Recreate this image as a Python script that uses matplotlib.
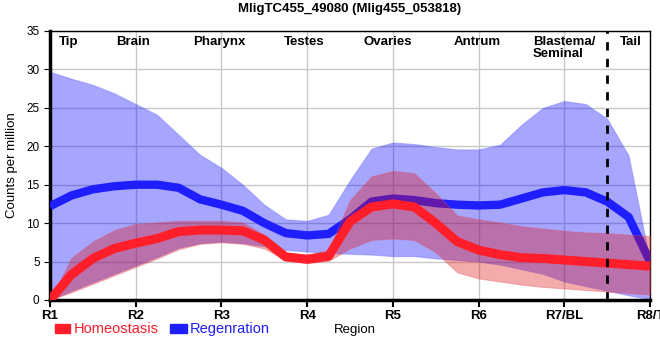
import numpy as np
import matplotlib.pyplot as plt

plt.rcParams['font.family'] = ['Liberation Sans', 'DejaVu Sans']

# positions along body, quarter steps between regions R1..R8
pos = np.arange(29) / 4.0
regions = ['R1', 'R2', 'R3', 'R4', 'R5', 'R6', 'R7/BL', 'R8/T']
parts = ['Tip', 'Brain', 'Pharynx', 'Testes', 'Ovaries', 'Antrum', 'Blastema/\nSeminal', 'Tail']
part_pos = [0.22, 0.97, 1.98, 2.96, 3.94, 4.98, 6.0, 6.77]

homeo = [0, 3.3, 5.4, 6.7, 7.4, 8.0, 8.9, 9.1, 9.1,
         9.0, 7.8, 5.6, 5.3, 5.7, 10.2, 12.1, 12.5,
         12.1, 10.0, 7.6, 6.5, 5.9, 5.5, 5.4, 5.2,
         5.0, 4.8, 4.6, 4.4]
homeo_hi = [0, 5.5, 7.6, 9.1, 9.9, 10.1, 10.3, 10.3, 10.3,
            10.1, 8.5, 6.2, 5.9, 6.5, 13.0, 16.1, 16.8,
            16.5, 13.9, 11.0, 10.5, 10.1, 9.6, 9.3, 9.0,
            8.8, 8.7, 8.5, 8.3]
homeo_lo = [0, 1.0, 2.1, 3.2, 4.3, 5.4, 6.6, 7.3, 7.5,
            7.3, 6.7, 5.2, 4.8, 5.1, 6.7, 7.8, 8.0,
            7.8, 6.2, 3.6, 2.8, 2.4, 2.0, 1.7, 1.5,
            1.3, 1.1, 0.9, 0.7]

regen = [12.2, 13.6, 14.4, 14.8, 15.0, 15.0, 14.6, 13.1, 12.4,
         11.6, 10.0, 8.7, 8.4, 8.6, 10.5, 12.8, 13.2,
         13.0, 12.6, 12.4, 12.3, 12.4, 13.2, 14.0, 14.3,
         14.0, 12.8, 10.8, 5.0]
regen_hi = [29.7, 28.8, 28.0, 26.9, 25.5, 24.1, 21.5, 18.9, 17.2,
            15.0, 12.4, 10.5, 10.3, 11.1, 15.6, 19.7, 20.5,
            20.3, 19.9, 19.6, 19.6, 20.2, 22.8, 25.0, 25.9,
            25.5, 23.6, 18.8, 5.0]
regen_lo = [0, 1.2, 2.3, 3.4, 4.5, 5.6, 6.8, 7.4, 7.6,
            7.4, 7.0, 6.5, 6.3, 6.1, 6.0, 5.9, 5.7,
            5.7, 5.4, 5.2, 5.0, 4.6, 4.0, 3.4, 2.4,
            1.8, 1.2, 0.6, 0.1]

blue = '#1e1eff'
red = '#ff1e2a'

fig = plt.figure(figsize=(6.6, 3.6), dpi=100)
ax = fig.add_axes([0.0758, 0.1667, 0.9091, 0.7472])

ax.fill_between(pos, regen_lo, regen_hi, color='#0000ff', alpha=0.35, lw=0.8,
                edgecolor='#6060ff', joinstyle='round')
ax.plot(pos, regen, color=blue, lw=6, solid_capstyle='butt', solid_joinstyle='round', zorder=3)
ax.fill_between(pos, homeo_lo, homeo_hi, color='#e01010', alpha=0.35, lw=0.8,
                edgecolor='#e05060', joinstyle='round', zorder=4)
ax.plot(pos, homeo, color=red, lw=6.5, solid_capstyle='butt', solid_joinstyle='round', zorder=5)

ax.axvline(6.5, color='black', lw=2, ls=(0, (3, 3)), zorder=6)

ax.set_xlim(0, 7)
ax.set_ylim(0, 35)
ax.set_xticks(range(8))
ax.set_xticklabels(regions, fontsize=9.5, fontweight='bold')
ax.set_yticks(range(0, 36, 5))
ax.tick_params(axis='y', labelsize=8.5, length=4)
ax.tick_params(axis='x', length=5, width=1.5, pad=2)
ax.grid(True, color='#c8c8c8', lw=1)
ax.set_axisbelow(True)
for s in ['left', 'bottom']:
    ax.spines[s].set_linewidth(2.5)
for s in ['top', 'right']:
    ax.spines[s].set_linewidth(1)

ax.set_ylabel('Counts per million', fontsize=9.5, labelpad=6)
ax.set_title('MligTC455_49080 (Mlig455_053818)', fontsize=9.5, fontweight='bold', pad=14)

for p, name in zip(part_pos, parts):
    ax.text(p, 34.4, name, ha='center', va='top', fontsize=9.5, fontweight='bold',
            multialignment='left', linespacing=1.0, zorder=7)

fig.text(0.537, 0.083, 'Region', ha='center', va='center', fontsize=9.5)

# legend drawn by hand: colored patches and colored labels
fig.patches.append(plt.Rectangle((0.083, 0.074), 0.023, 0.025, transform=fig.transFigure,
                                 color=red, figure=fig))
fig.text(0.111, 0.086, 'Homeostasis', color=red, fontsize=10.5, va='center')
fig.patches.append(plt.Rectangle((0.258, 0.074), 0.025, 0.025, transform=fig.transFigure,
                                 color=blue, figure=fig))
fig.text(0.288, 0.086, 'Regenration', color=blue, fontsize=10.5, va='center')

fig.savefig('out.png', dpi=100)
